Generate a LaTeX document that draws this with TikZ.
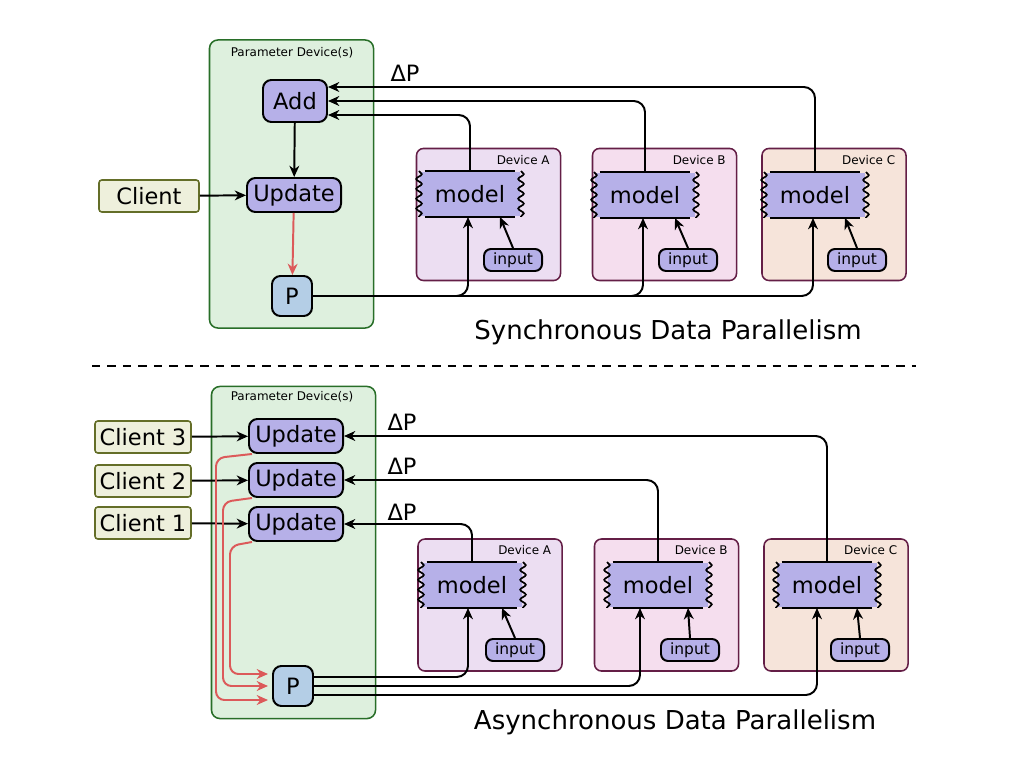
\documentclass[tikz,border=0pt]{standalone}
\usepackage{fontspec}
\setmainfont{DejaVu Sans}
\usetikzlibrary{positioning,calc,arrows.meta,decorations.pathmorphing}
\definecolor{pdfill}{RGB}{222,240,222}
\definecolor{pddraw}{RGB}{40,110,40}
\definecolor{opfill}{RGB}{182,176,232}
\definecolor{pfill}{RGB}{180,206,230}
\definecolor{clfill}{RGB}{238,240,220}
\definecolor{cldraw}{RGB}{100,110,40}
\definecolor{devA}{RGB}{236,222,242}
\definecolor{devB}{RGB}{245,222,238}
\definecolor{devC}{RGB}{246,228,218}
\definecolor{devdraw}{RGB}{100,30,70}
\definecolor{redline}{RGB}{220,90,90}
\tikzset{%
  >={Stealth[length=8pt,width=7pt,inset=2.5pt]},
  every path/.style={line width=1.4pt},
  pdev/.style={draw=pddraw,fill=pdfill,rounded corners=6pt,line width=1.1pt,minimum width=4.1cm,inner sep=0pt},
  dev/.style={draw=devdraw,rounded corners=5pt,line width=1.1pt,minimum width=3.6cm,minimum height=3.3cm,inner sep=0pt},
  op/.style={draw,line width=1.4pt,fill=opfill,rounded corners=6pt,inner sep=2pt,font=\fontsize{16}{16}\selectfont},
  upd/.style={op,minimum width=2.35cm,minimum height=0.85cm},
  pnode/.style={op,fill=pfill,minimum width=1cm,minimum height=1cm},
  client/.style={draw=cldraw,fill=clfill,line width=1.1pt,rounded corners=2pt,minimum height=0.8cm,font=\fontsize{16}{16}\selectfont},
  model/.style={fill=opfill,minimum width=2.5cm,minimum height=1.1cm,inner sep=0pt,font=\fontsize{16}{16}\selectfont},
  inp/.style={op,rounded corners=5pt,minimum width=1.45cm,minimum height=0.55cm,font=\fontsize{11}{11}\selectfont,inner sep=1pt},
  small/.style={font=\fontsize{8.5}{8.5}\selectfont},
  title/.style={font=\fontsize{18.5}{18.5}\selectfont},
  dlabel/.style={font=\fontsize{16}{16}\selectfont},
  conn/.style={->,rounded corners=8pt},
  redarrow/.style={->,draw=redline,rounded corners=6pt},
  zig/.style={decorate,decoration={snake,amplitude=2pt,segment length=7pt}}
}
\begin{document}
\begin{tikzpicture}[x=0.025cm,y=-0.025cm]
\useasboundingbox (0,0) rectangle (1024,766);
% synchronous
\node[pdev,minimum height=7.2cm] (pd1) at (291.5,184) {};
\node[small] at (292,53) {Parameter Device(s)};
\node[op,minimum width=1.6cm,minimum height=1.05cm] (add) at (295,101) {Add};
\node[upd] (upd) at (294,195) {Update};
\node[pnode] (p1) at (292,296) {P};
\node[client,minimum width=2.5cm] (cl) at (149,196) {Client};
\foreach \n/\x/\c in {A/488.5/devA,B/664.5/devB,C/834/devC} {
  \node[dev,fill=\c] (d1\n) at (\x,214.5) {};
  \node[small,anchor=north east] at ([xshift=-0.15cm,yshift=-0.05cm]d1\n.north east) {Device \n};
}
\node[model] (m1A) at (470,194) {model};
\node[model] (m1B) at (645,195) {model};
\node[model] (m1C) at (815,195) {model};
\node[inp] (i1A) at (513,260) {input};
\node[inp] (i1B) at (688,260) {input};
\node[inp] (i1C) at (857,260) {input};
\node[title] at (668,332) {Synchronous Data Parallelism};
\node[dlabel] at (405,73) {ΔP};

\draw[->] (add) -- (upd);
\draw[->] (cl) -- (upd);
\draw[->,draw=redline] (upd) -- (p1);
\draw[conn] (m1A.north) |- ([yshift=-0.35cm]add.east);
\draw[conn] (m1B.north) |- (add.east);
\draw[conn] (m1C.north) |- ([yshift=0.35cm]add.east);
\foreach \n in {A,B,C} {
  \draw[conn] (p1.east) -| ([xshift=-0.05cm]m1\n.south);
  \draw[->] (i1\n.north) -- ([xshift=0.75cm]m1\n.south);
}

\draw[dashed,line width=1.8pt,dash pattern=on 6pt off 5pt] (92,366) -- (916,366);

% asynchronous
\node[pdev,minimum height=8.3cm] (pd2) at (293.5,552.5) {};
\node[small] at (292,397) {Parameter Device(s)};
\node[upd] (u3) at (296,436) {Update};
\node[upd] (u2) at (296,480) {Update};
\node[upd] (u1) at (296,524) {Update};
\node[pnode] (p2) at (293,686) {P};
\node[client,minimum width=2.4cm] (c3) at (143,437) {Client 3};
\node[client,minimum width=2.4cm] (c2) at (143,481) {Client 2};
\node[client,minimum width=2.4cm] (c1) at (143,523) {Client 1};
\foreach \n/\x/\c in {A/490/devA,B/666.5/devB,C/836/devC} {
  \node[dev,fill=\c] (d2\n) at (\x,605) {};
  \node[small,anchor=north east] at ([xshift=-0.15cm,yshift=-0.05cm]d2\n.north east) {Device \n};
}
\node[model] (m2A) at (472,585) {model};
\node[model] (m2B) at (658,585) {model};
\node[model] (m2C) at (827,585) {model};
\node[inp] (i2A) at (515,650) {input};
\node[inp] (i2B) at (690,650) {input};
\node[inp] (i2C) at (860,650) {input};
\node[title] at (675,722) {Asynchronous Data Parallelism};
\node[dlabel] at (402,422) {ΔP};
\node[dlabel] at (402,466) {ΔP};
\node[dlabel] at (402,512) {ΔP};

\foreach \k in {1,2,3} \draw[->] (c\k) -- (u\k);
\draw[conn] (m2A.north) |- (u1.east);
\draw[conn] (m2B.north) |- (u2.east);
\draw[conn] (m2C.north) |- (u3.east);
\draw[conn] ([yshift=0.225cm]p2.east) -| ([xshift=-0.1cm]m2A.south);
\draw[conn] (p2.east) -| ([xshift=-0.45cm]m2B.south);
\draw[conn] ([yshift=-0.225cm]p2.east) -| ([xshift=-0.25cm]m2C.south);
\draw[redarrow] ([xshift=0.1cm]u3.south west) -- ++(-36,4) |- ([yshift=-0.35cm,xshift=-0.1cm]p2.west);
\draw[redarrow] ([xshift=0.1cm]u2.south west) -- ++(-29,4) |- ([xshift=-0.1cm]p2.west);
\draw[redarrow] ([xshift=0.1cm]u1.south west) -- ++(-22,4) |- ([yshift=0.3cm,xshift=-0.1cm]p2.west);
\foreach \n in {A,B,C} \draw[->] (i2\n.north) -- ([xshift=0.75cm]m2\n.south);

% model outlines
\foreach \m in {m1A,m1B,m1C,m2A,m2B,m2C} {
  \draw[line width=1.2pt] ([xshift=4pt]\m.north west) -- ([xshift=-4pt]\m.north east);
  \draw[line width=1.2pt] ([xshift=4pt]\m.south west) -- ([xshift=-4pt]\m.south east);
  \draw[line width=1.2pt,zig] (\m.north west) -- (\m.south west);
  \draw[line width=1.2pt,zig] (\m.north east) -- (\m.south east);
}
\end{tikzpicture}
\end{document}
